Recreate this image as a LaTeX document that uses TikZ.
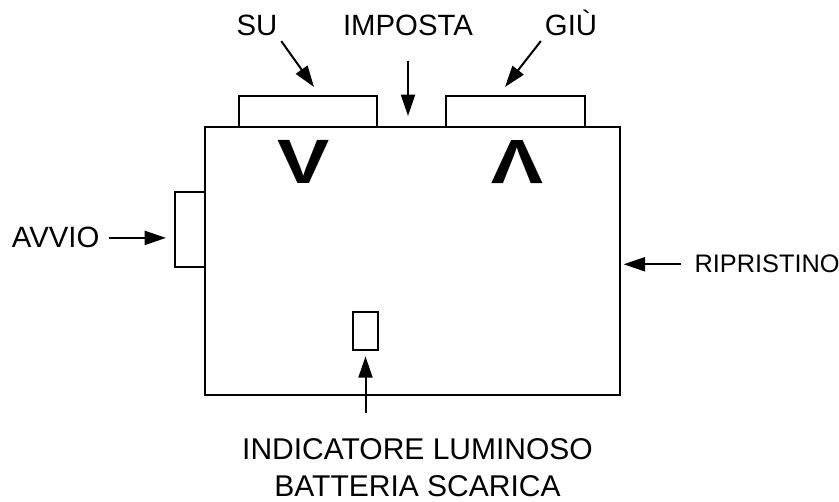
\documentclass[tikz,border=0pt]{standalone}
\usepackage{fontspec}
\setmainfont{Liberation Sans}
\usetikzlibrary{arrows.meta,positioning}

\begin{document}
\begin{tikzpicture}[x=0.75pt, y=-0.75pt,
    part/.style={draw, line width=1.5pt, inner sep=0pt},
    lbl/.style={font=\fontsize{22}{26}\selectfont, inner sep=1pt},
    glyph/.style={font=\fontsize{47}{47}\selectfont\bfseries, inner sep=0pt, xscale=1.25},
    ptr/.style={-{Triangle[length=16pt,width=10.5pt]}, line width=1.5pt}]

  \useasboundingbox (0,0) rectangle (839,502);

  % buttons
  \node[part, minimum width=103.5pt, minimum height=23.25pt] (upbtn) at (308,111.5) {};
  \node[part, minimum width=104.25pt, minimum height=23.25pt] (downbtn) at (515.5,111.5) {};
  \node[part, minimum width=22.5pt, minimum height=56.25pt] (startbtn) at (190,229.5) {};
  % housing
  \node[part, minimum width=311.25pt, minimum height=201pt] (unit) at (412.5,261) {};
  \node[part, minimum width=18.75pt, minimum height=28.5pt] (led) at (365.5,331) {};

  \node[glyph] (upsign) at (304,162) {V};
  \node[glyph, rotate=180] (downsign) at (517,162) {V};

  % labels
  \node[lbl, anchor=base] (su) at (257,36) {SU};
  \node[lbl, anchor=base] (imposta) at (408,36) {IMPOSTA};
  \node[lbl, anchor=base] (giu) at (571,36) {GIÙ};
  \node[lbl, anchor=base east] (avvio) at (101,248) {AVVIO};
  \node[lbl, anchor=base west, font=\fontsize{19}{23}\selectfont] (ripr) at (693,273) {RIPRISTINO};
  \node[lbl, anchor=north, align=center, font=\fontsize{22.5}{27.75}\selectfont] (lowbatt) at (417.5,436.7)
    {INDICATORE LUMINOSO\\BATTERIA SCARICA};

  % arrows
  \coordinate (uptip) at (314,87);
  \coordinate (downtip) at (505,87);
  \draw[ptr, shorten <=3pt] (su.south east) -- (uptip);
  \draw[ptr, shorten <=3pt] (giu.south west) -- (downtip);
  \draw[ptr, shorten <=17pt, shorten >=7.5pt] (imposta.south) -- (imposta.south |- unit.north);
  \draw[ptr, shorten <=6pt, shorten >=6pt] (avvio.east) -- (avvio.east -| startbtn.west);
  \draw[ptr, shorten <=9pt, shorten >=2pt] (ripr.west) -- (ripr.west -| unit.east);
  \draw[ptr, shorten <=17.8pt, shorten >=4pt] (led.south |- lowbatt.north) -- (led.south);
\end{tikzpicture}
\end{document}
